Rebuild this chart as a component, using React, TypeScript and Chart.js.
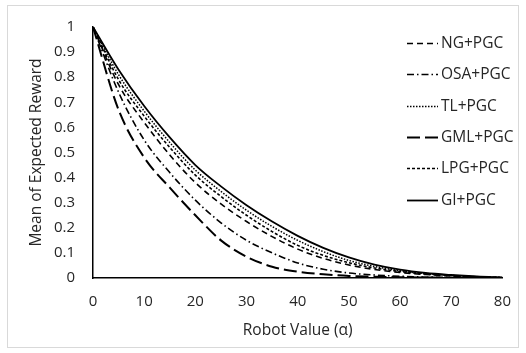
import { useEffect, useRef } from "react";
import { Chart, registerables } from "chart.js";

Chart.register(...registerables);

const alphaValues = [0, 5, 10, 15, 20, 25, 30, 35, 40, 45, 50, 55, 60, 65, 70, 75, 80];
const ngPgc = [1, 0.77, 0.62, 0.49, 0.38, 0.295, 0.225, 0.165, 0.115, 0.078, 0.052, 0.034, 0.022, 0.014, 0.008, 0.004, 0.002];
const osaPgc = [1, 0.74, 0.55, 0.42, 0.31, 0.22, 0.15, 0.1, 0.06, 0.035, 0.02, 0.012, 0.007, 0.004, 0.002, 0.001, 0.0];
const tlPgc = [1, 0.81, 0.665, 0.54, 0.43, 0.345, 0.27, 0.205, 0.15, 0.105, 0.07, 0.046, 0.029, 0.017, 0.01, 0.005, 0.002];
const gmlPgc = [1, 0.67, 0.48, 0.36, 0.25, 0.15, 0.085, 0.045, 0.025, 0.015, 0.008, 0.005, 0.003, 0.002, 0.001, 0.001, 0.0];
const lpgPgc = [1, 0.79, 0.645, 0.52, 0.41, 0.325, 0.25, 0.185, 0.13, 0.09, 0.061, 0.04, 0.026, 0.016, 0.01, 0.005, 0.002];
const giPgc = [1, 0.83, 0.685, 0.56, 0.45, 0.365, 0.29, 0.225, 0.168, 0.12, 0.082, 0.053, 0.033, 0.02, 0.012, 0.006, 0.002];

const seriesNames = ["NG+PGC", "OSA+PGC", "TL+PGC", "GML+PGC", "LPG+PGC", "GI+PGC"];
const xTitle = "Robot Value (\u03b1)";
const yTitle = "Mean of Expected Reward";

const FONT = "'Open Sans', sans-serif";
const TEXT = "#262626";

export default function App() {
  const ref = useRef<HTMLCanvasElement | null>(null);

  useEffect(() => {
    document.body.style.margin = "0";
    const canvas = ref.current;
    if (!canvas) return;
    const allSeries = [ngPgc, osaPgc, tlPgc, gmlPgc, lpgPgc, giPgc];
    const dashes = [[6, 4], [7, 3, 1.5, 3], [1.5, 1.5], [13, 5], [3, 2], []];
    const widths = [1.6, 1.6, 1.5, 2, 1.6, 1.8];

    const frame = {
      id: "frame",
      beforeDraw(chart: any) {
        const c = chart.ctx;
        c.save();
        c.fillStyle = "#ffffff";
        c.fillRect(0, 0, chart.width, chart.height);
        c.strokeStyle = "#d9d9d9";
        c.lineWidth = 1;
        c.strokeRect(7.5, 5.5, 511, 342);
        c.restore();
      },
    };

    const legendBox = {
      id: "legendBox",
      afterDraw(chart: any) {
        const c = chart.ctx;
        c.save();
        const ys = [43, 74, 106, 137, 168, 200];
        chart.data.datasets.forEach((ds: any, i: number) => {
          const y = ys[i];
          c.strokeStyle = "#000";
          c.lineWidth = ds.borderWidth;
          c.setLineDash(ds.borderDash || []);
          c.beginPath();
          c.moveTo(407, y + 0.5);
          c.lineTo(438, y + 0.5);
          c.stroke();
          c.setLineDash([]);
          c.fillStyle = TEXT;
          c.font = `15.5px ${FONT}`;
          c.textBaseline = "middle";
          c.textAlign = "left";
          c.fillText(ds.label, 441, y + 1);
        });
        c.restore();
      },
    };

    const chart = new Chart(canvas, {
      type: "line",
      data: {
        datasets: allSeries.map((s, i) => ({
          label: seriesNames[i],
          data: s.map((v, j) => ({ x: alphaValues[j], y: v })),
          borderColor: "#000",
          borderWidth: widths[i],
          borderDash: dashes[i],
          pointRadius: 0,
          fill: false,
          cubicInterpolationMode: "monotone" as const,
        })),
      },
      options: {
        animation: false,
        responsive: false,
        maintainAspectRatio: false,
        layout: { padding: { top: 22, right: 18, left: 0, bottom: 0 } },
        plugins: { legend: { display: false }, tooltip: { enabled: false } },
        scales: {
          x: {
            type: "linear",
            min: 0,
            max: 80,
            ticks: { stepSize: 10, padding: 15, color: TEXT, font: { family: FONT, size: 15 }, maxRotation: 0 },
            grid: { display: false, drawTicks: false },
            border: { display: true, color: "#000", width: 1.5 },
            title: { display: true, text: xTitle, color: TEXT, font: { family: FONT, size: 15.5 }, padding: { top: 0, bottom: 13 } },
            afterFit(scale: any) {
              scale.height = 75;
            },
          },
          y: {
            min: 0,
            max: 1,
            ticks: {
              stepSize: 0.1,
              padding: 18,
              color: TEXT,
              font: { family: FONT, size: 15 },
              callback: (v: any) => String(Number(Number(v).toFixed(1))),
            },
            grid: { display: false, drawTicks: false },
            border: { display: true, color: "#000", width: 1.5 },
            title: { display: true, text: yTitle, color: TEXT, font: { family: FONT, size: 15.5 }, padding: { top: 27, bottom: 0 } },
            afterFit(scale: any) {
              scale.width = 93;
            },
          },
        },
      },
      plugins: [frame, legendBox],
    });
    return () => chart.destroy();
  }, []);

  return (
    <div style={{ width: 526, height: 353, position: "relative" }}>
      <canvas ref={ref} width={526} height={353} style={{ display: "block", width: 526, height: 353 }} />
    </div>
  );
}
